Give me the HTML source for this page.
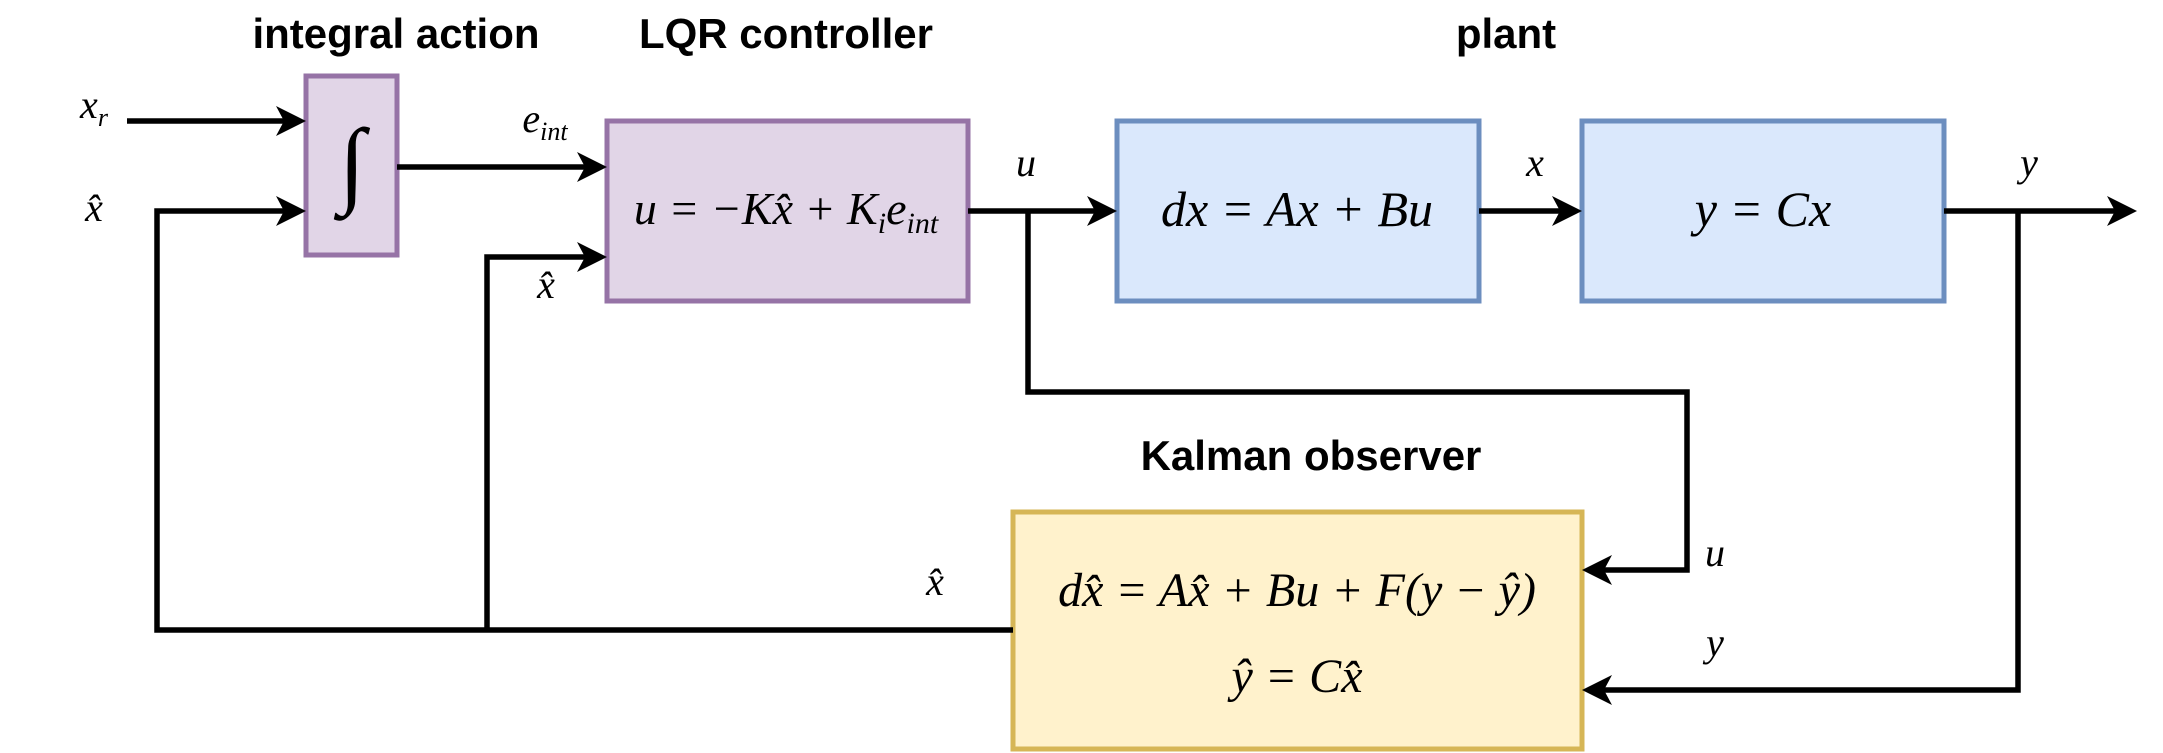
<!DOCTYPE html>
<html><head><meta charset="utf-8"><style>
html,body{margin:0;padding:0;background:#fff;}
svg{display:block}
.t{font-family:"Liberation Sans",sans-serif;font-weight:bold;font-size:42px;text-anchor:middle;fill:#000}
.m{font-family:"Liberation Serif",serif;font-style:italic;font-size:40px;text-anchor:middle;fill:#000}
.l{stroke:#000;stroke-width:5.5;fill:none}
</style></head><body>
<svg width="2163" height="753" viewBox="0 0 2163 753" xmlns="http://www.w3.org/2000/svg">
<text class="t" x="396" y="48">integral action</text>
<text class="t" x="786" y="48">LQR controller</text>
<text class="t" x="1506" y="48">plant</text>
<text class="t" x="1311" y="470">Kalman observer</text>

<rect x="306" y="76" width="91" height="179" fill="#e1d5e7" stroke="#9673a6" stroke-width="5"/>
<rect x="607" y="121" width="361" height="180" fill="#e1d5e7" stroke="#9673a6" stroke-width="5"/>
<rect x="1117" y="121" width="362" height="180" fill="#dae8fc" stroke="#6c8ebf" stroke-width="5"/>
<rect x="1582" y="121" width="362" height="180" fill="#dae8fc" stroke="#6c8ebf" stroke-width="5"/>
<rect x="1013" y="512" width="569" height="237" fill="#fff2cc" stroke="#d6b656" stroke-width="5"/>

<g class="l">
<path d="M127 121 H290"/>
<path d="M1013 630 H157 V211 H290"/>
<path d="M487 630 V257 H591"/>
<path d="M397 167 H591"/>
<path d="M968 211 H1101"/>
<path d="M1028 211 V392 H1687 V570 H1598"/>
<path d="M1479 211 H1566"/>
<path d="M1944 211 H2120"/>
<path d="M2018 211 V690 H1598"/>
</g>
<g fill="#000">
<path d="M306 121 l-30 -15 l8 15 l-8 15z"/>
<path d="M306 211 l-30 -15 l8 15 l-8 15z"/>
<path d="M607 167 l-30 -15 l8 15 l-8 15z"/>
<path d="M607 257 l-30 -15 l8 15 l-8 15z"/>
<path d="M1117 211 l-30 -15 l8 15 l-8 15z"/>
<path d="M1582 211 l-30 -15 l8 15 l-8 15z"/>
<path d="M2137 211 l-30 -15 l8 15 l-8 15z"/>
<path d="M1582 570 l30 -15 l-8 15 l8 15z"/>
<path d="M1582 690 l30 15 l-8 -15 l8 -15z"/>
</g>

<text class="m" x="352" y="195" style="font-size:96px;font-style:normal">∫</text>
<text class="m" x="94" y="118">x<tspan font-size="26" dy="8">r</tspan></text>
<text class="m" x="94" y="221">x̂</text>
<text class="m" x="545" y="132">e<tspan font-size="26" dy="8">int</tspan></text>
<text class="m" x="546" y="298">x̂</text>
<text class="m" x="1026" y="176">u</text>
<text class="m" x="1535" y="176">x</text>
<text class="m" x="2029" y="176">y</text>
<text class="m" x="1715" y="566">u</text>
<text class="m" x="1715" y="656">y</text>
<text class="m" x="935" y="595">x̂</text>

<text class="m" x="786" y="224" style="font-size:46px">u = −Kx̂ + K<tspan font-size="30" dy="9">i</tspan><tspan dy="-9">e</tspan><tspan font-size="30" dy="9">int</tspan></text>
<text class="m" x="1297" y="226" style="font-size:50px">dx = Ax + Bu</text>
<text class="m" x="1763" y="226" style="font-size:50px">y = Cx</text>
<text class="m" x="1297" y="606" style="font-size:48px">dx̂ = Ax̂ + Bu + F(y − ŷ)</text>
<text class="m" x="1297" y="692" style="font-size:48px">ŷ = Cx̂</text>
</svg>
</body></html>
